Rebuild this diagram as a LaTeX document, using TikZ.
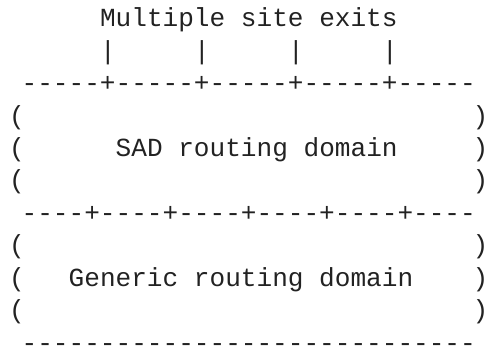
\documentclass[tikz,border=0pt]{standalone}
\usepackage{fontspec}
\setmonofont{Liberation Mono}
\definecolor{inkgray}{HTML}{222222}

\begin{document}
\begin{tikzpicture}[
      x=15.67pt, y=32.4pt,
      ascii/.style={
         font=\ttfamily\fontsize{26.1pt}{32.4pt}\selectfont,
         text=inkgray,
         anchor=base west,
         inner sep=0pt,
         outer sep=0pt},
      lwall/.style={ascii, xshift=3pt},
      rwall/.style={ascii, xshift=-3.5pt}
      ]
      \useasboundingbox (-6pt,27pt) rectangle (483pt,-320pt);

      \node[ascii] (title) at (6,0) {Multiple site exits};
      \foreach \c/\n in {6/1,12/2,18/3,24/4}
         \node[ascii] (exit\n) at (\c,-1) {|};
      \node[ascii] (sadtop) at (1,-2) {-----+-----+-----+-----+-----};

      % side walls of the upper domain
      \foreach \r/\n in {3/a,4/b,5/c}{
         \node[lwall] (sadl\n) at (0,-\r) {(};
         \node[rwall] (sadr\n) at (30,-\r) {)};
      }
      \node[ascii] (sad) at (7,-4) {SAD routing domain};
      \node[ascii] (sadbot) at (1,-6) {----+----+----+----+----+----};

      % side walls of the lower domain
      \foreach \r/\n in {7/a,8/b,9/c}{
         \node[lwall] (genl\n) at (0,-\r) {(};
         \node[rwall] (genr\n) at (30,-\r) {)};
      }
      \node[ascii] (generic) at (4,-8) {Generic routing domain};
      \node[ascii] (genbot) at (1,-10) {-----------------------------};
\end{tikzpicture}
\end{document}
